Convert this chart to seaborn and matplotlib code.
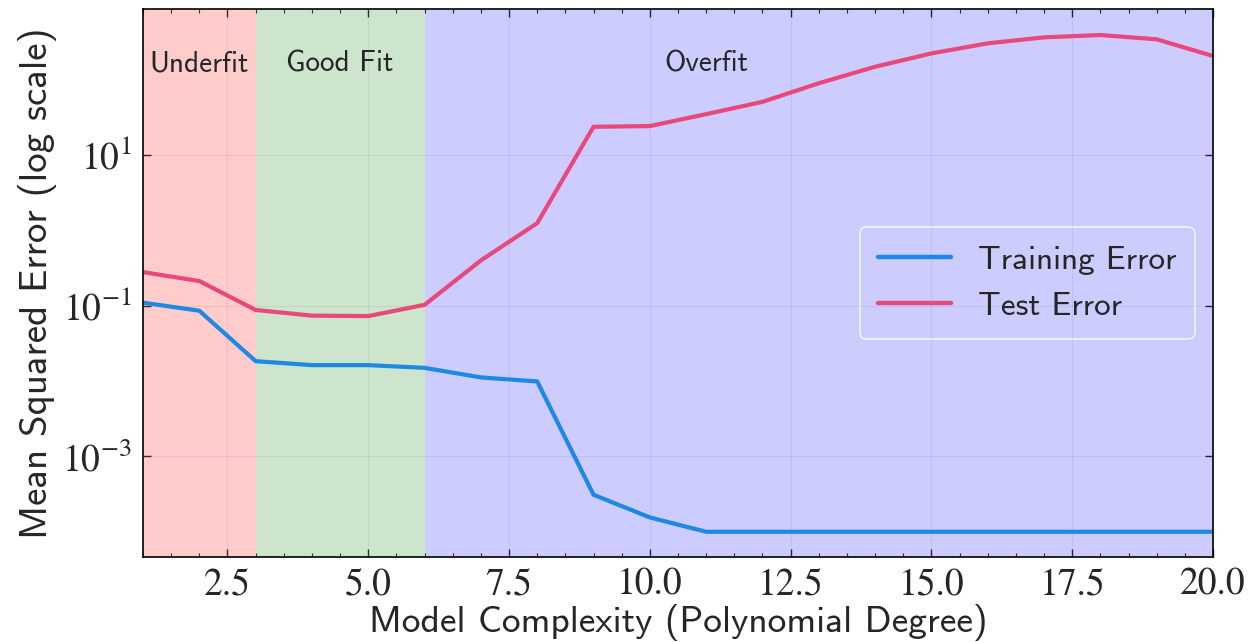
import numpy as np
import pandas as pd
import matplotlib
matplotlib.use("Agg")
import matplotlib.pyplot as plt
import matplotlib.ticker as mticker
import seaborn as sns

degrees = list(range(1, 21))
train_error = [0.11, 0.086, 0.0184, 0.0163, 0.0163, 0.0150, 0.0112, 0.0099, 0.00031, 0.000155,
               0.0001, 0.0001, 0.0001, 0.0001, 0.0001, 0.0001, 0.0001, 0.0001, 0.0001, 0.0001]
test_error = [0.28, 0.213, 0.088, 0.074, 0.073, 0.103, 0.40, 1.25, 23.8, 24.3,
              35, 51, 90, 149, 224, 305, 366, 393, 345, 207]
series_labels = ["Training Error", "Test Error"]
regions = [("Underfit", 1, 3, "red", 2.0), ("Good Fit", 3, 6, "green", 4.5), ("Overfit", 6, 20, "blue", 11.0)]
y_ticks = [1e-3, 1e-1, 1e1]

sns.set_style("ticks")
plt.rcParams["mathtext.fontset"] = "stix"

df = pd.DataFrame({
    "degree": degrees * 2,
    "error": train_error + test_error,
    "series": [series_labels[0]] * len(degrees) + [series_labels[1]] * len(degrees),
})

fig = plt.figure(figsize=(12.52, 6.42), dpi=100)
ax = fig.add_axes([143 / 1252, 1 - 557 / 642, 1070 / 1252, 548 / 642])

for name, x0, x1, col, xt in regions:
    ax.axvspan(x0, x1, color=col, alpha=0.2, lw=0)
    ax.text(xt, 0.90, name, transform=ax.get_xaxis_transform(), ha="center", va="center",
            fontsize=21, family="cmss10")

sns.lineplot(data=df, x="degree", y="error", hue="series",
             palette={series_labels[0]: "#1E88E5", series_labels[1]: "#E8487A"},
             linewidth=3.0, ax=ax)

ax.set_yscale("log")
ax.set_xlim(1, 20)
ax.set_ylim(10 ** -4.335, 10 ** 2.94)
ax.yaxis.set_major_locator(mticker.FixedLocator(y_ticks))
ax.yaxis.set_minor_locator(mticker.NullLocator())
ax.xaxis.set_major_locator(mticker.MultipleLocator(2.5))
ax.xaxis.set_minor_locator(mticker.MultipleLocator(0.5))
ax.xaxis.set_major_formatter(mticker.FormatStrFormatter("%.1f"))

ax.tick_params(which="both", direction="in", top=True, right=True, labelsize=27, pad=8)
ax.tick_params(which="major", length=6, width=1)
ax.tick_params(which="minor", length=3, width=0.8)
for lab in ax.get_xticklabels() + ax.get_yticklabels():
    lab.set_family("STIXGeneral")

ax.grid(True, which="major", color="gray", alpha=0.12, lw=0.8)
for s in ax.spines.values():
    s.set_color("black")
    s.set_linewidth(1.2)

ax.set_xlabel("Model Complexity (Polynomial Degree)", family="cmss10", fontsize=27, labelpad=1)
ax.set_ylabel("Mean Squared Error (log scale)", family="cmss10", fontsize=28, labelpad=4)

leg = ax.legend(loc="center right", prop={"family": "cmss10", "size": 24},
                frameon=True, fancybox=True, borderpad=0.55, handlelength=2.2,
                borderaxespad=0, bbox_to_anchor=(0.983, 0.5))
leg.get_frame().set_facecolor("none")
leg.get_frame().set_edgecolor("white")
leg.get_frame().set_linewidth(1.2)
for line in leg.get_lines():
    line.set_linewidth(3.2)

fig.savefig("out.png", dpi=100)
